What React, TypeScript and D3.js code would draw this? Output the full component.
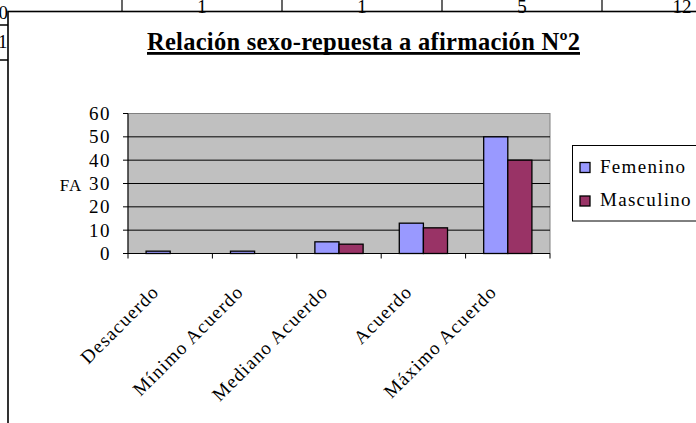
import React from "react";
import * as d3 from "d3";

const categories = ["Desacuerdo", "Mínimo Acuerdo", "Mediano Acuerdo", "Acuerdo", "Máximo Acuerdo"];
const seriesNames = ["Femenino", "Masculino"];
const femenino = [1, 1, 5, 13, 50];
const masculino = [0, 0, 4, 11, 40];
const yTicks = [0, 10, 20, 30, 40, 50, 60];
const tableTop = ["1", "1", "5", "12"];
const colors = ["#9999FF", "#993366"];

const W = 696, H = 423;
const plot = { left: 128, right: 550, top: 113.5, bottom: 253.5 };
const ff = { fontFamily: '"Liberation Serif", "DejaVu Serif", serif' };

export default function App() {
  const x = d3.scaleBand<string>().domain(categories).range([plot.left, plot.right]).paddingInner(0).paddingOuter(0);
  const x1 = d3.scaleBand<string>().domain(seriesNames).range([0, x.bandwidth()]).paddingInner(0).paddingOuter(0.75);
  const y = d3.scaleLinear().domain([0, 60]).range([plot.bottom, plot.top]);
  const series = [femenino, masculino];
  const tickXs = categories.map((c) => x(c)!).concat([plot.right]);
  const tableXs = [122, 282, 442, 602];

  return (
    <svg width={W} height={H} style={{ position: "absolute", left: 0, top: 0, display: "block", ...ff }}>
      <rect x={0} y={0} width={W} height={H} fill="#fff" />
      <line x1={0} x2={8} y1={25} y2={25} stroke="#000" strokeWidth={1.5} />
      <line x1={0} x2={8} y1={60} y2={60} stroke="#000" strokeWidth={1.5} />
      <text style={ff} x={8} y={19} fontSize={19} textAnchor="end">0</text>
      <text style={ff} x={17} y={48} fontSize={19} textAnchor="end">10</text>
      <rect x={8} y={11.5} width={W} height={H} fill="#fff" stroke="#000" strokeWidth={1.6} />
      {tableXs.map((tx) => (
        <line key={tx} x1={tx} x2={tx} y1={0} y2={11.5} stroke="#000" strokeWidth={1.2} />
      ))}
      {tableTop.map((t, i) => (
        <text style={ff} key={i} x={tableXs[i] + 80} y={13} fontSize={19} textAnchor="middle">{t}</text>
      ))}

      <text style={ff} x={363.5} y={50} fontSize={24.5} fontWeight="bold" textAnchor="middle" textLength={433} lengthAdjust="spacing">
        Relación sexo-repuesta a afirmación Nº2
      </text>
      <rect x={147} y={52} width={433} height={2.8} fill="#000" />

      <rect x={plot.left} y={plot.top} width={plot.right - plot.left} height={plot.bottom - plot.top} fill="#C0C0C0" stroke="#808080" strokeWidth={1} />
      {yTicks.filter((t) => t > 0 && t < 60).map((t) => (
        <line key={t} x1={plot.left} x2={plot.right} y1={y(t)} y2={y(t)} stroke="#000" strokeWidth={1} />
      ))}
      {categories.map((c, i) =>
        series.map((s, j) => {
          const v = s[i];
          if (v <= 0) return null;
          return (
            <rect key={c + j} x={x(c)! + x1(seriesNames[j])!} y={y(v)} width={x1.bandwidth()} height={plot.bottom - y(v)}
              fill={colors[j]} stroke="#000" strokeWidth={1.3} />
          );
        })
      )}
      <line x1={plot.left} x2={plot.left} y1={plot.top} y2={plot.bottom} stroke="#000" strokeWidth={1} />
      <line x1={plot.left} x2={plot.right} y1={plot.bottom} y2={plot.bottom} stroke="#000" strokeWidth={1.2} />
      {yTicks.map((t) => (
        <g key={t}>
          <line x1={plot.left - 5} x2={plot.left} y1={y(t)} y2={y(t)} stroke="#000" />
          <text style={ff} x={111} y={y(t) + 6.5} fontSize={19} textAnchor="end" letterSpacing={1.5}>{t}</text>
        </g>
      ))}
      {tickXs.map((tx, i) => (
        <line key={i} x1={tx} x2={tx} y1={plot.bottom} y2={plot.bottom + 5} stroke="#000" />
      ))}
      {categories.map((c) => {
        const cx = x(c)! + x.bandwidth() / 2 - 10;
        const cy = 293;
        return (
          <text style={ff} key={c} x={cx} y={cy} fontSize={19} textAnchor="end" letterSpacing={1.2}
            transform={`rotate(-45 ${cx} ${cy})`}>{c}</text>
        );
      })}
      <text style={ff} x={71} y={191} fontSize={17} textAnchor="middle" letterSpacing={1}>FA</text>

      <rect x={572.5} y={145.5} width={130} height={75.5} fill="#fff" stroke="#000" strokeWidth={1} />
      {seriesNames.map((n, i) => (
        <g key={n}>
          <rect x={580} y={162.5 + i * 33.5} width={10} height={10} fill={colors[i]} stroke="#000" strokeWidth={1.3} />
          <text style={ff} x={600} y={172.5 + i * 33.5} fontSize={19} letterSpacing={1.3}>{n}</text>
        </g>
      ))}
    </svg>
  );
}
